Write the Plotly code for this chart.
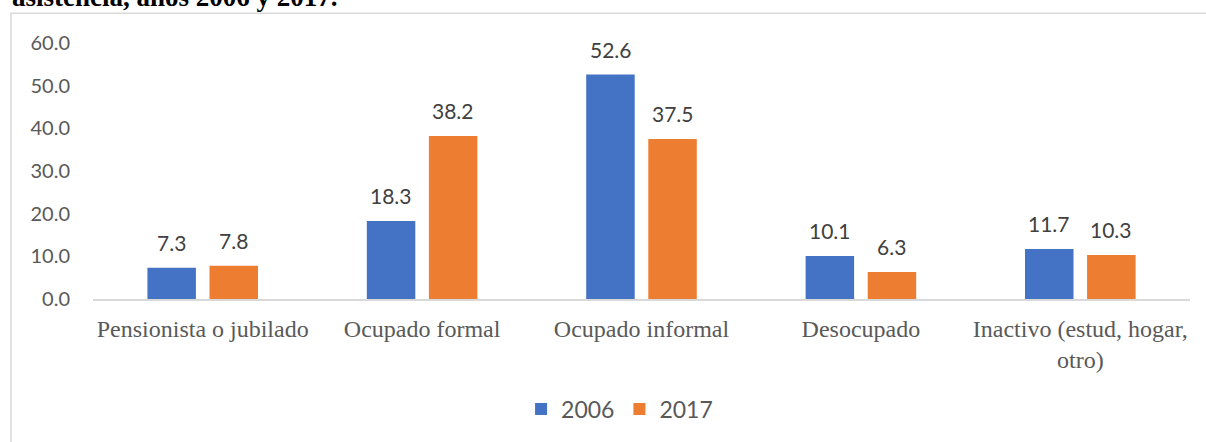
import plotly.graph_objects as go

categorias = ["Pensionista o jubilado", "Ocupado formal", "Ocupado informal",
              "Desocupado", "Inactivo (estud, hogar,<br>otro)"]
v2006 = [7.3, 18.3, 52.6, 10.1, 11.7]
v2017 = [7.8, 38.2, 37.5, 6.3, 10.3]
series = [("2006", v2006, "#4472C4"), ("2017", v2017, "#ED7D31")]
y_ticks = [0, 10, 20, 30, 40, 50, 60]

W, H = 1206, 442
L, R, T, B = 93, 16, 43, 140
pw, ph = W - L - R, H - T - B

fig = go.Figure()
for name, vals, col in series:
    fig.add_trace(go.Bar(x=categorias, y=vals, name=name,
                         marker=dict(color=col, line=dict(width=0))))

# data labels above each bar
shift = 31
for i, (name, vals, col) in enumerate(series):
    dx = -shift if i == 0 else shift
    for c, v in zip(categorias, vals):
        fig.add_annotation(x=c, y=v, text=f"{v:.1f}", showarrow=False,
                           xshift=dx, yshift=11, yanchor="bottom",
                           font=dict(family="Lato", size=21, color="#404040"))

# title cut at the top
fig.add_annotation(xref="paper", yref="paper", x=(10 - L) / pw, y=(ph + T - 14) / ph,
                   xanchor="left", yanchor="bottom", showarrow=False,
                   text="<b>asistencia, años 2006 y 2017.</b>",
                   font=dict(family="Liberation Serif", size=27, color="black"))

# chart border
fig.add_shape(type="rect", xref="paper", yref="paper",
              x0=(11 - L) / pw, x1=1.1, y0=-0.8, y1=(ph + T - 13) / ph,
              line=dict(color="#d9d9d9", width=1.5), fillcolor="rgba(0,0,0,0)")

fig.update_layout(
    width=W, height=H,
    margin=dict(l=L, r=R, t=T, b=B),
    paper_bgcolor="white", plot_bgcolor="white",
    barmode="group", bargap=0.434, bargroupgap=0.219,
    showlegend=True,
    legend=dict(orientation="h", x=0.48, xanchor="center", y=-0.43, yanchor="middle",
                font=dict(family="Lato", size=23, color="#595959"), itemwidth=30),
    xaxis=dict(showline=True, linecolor="#d9d9d9", linewidth=2, showgrid=False,
               tickfont=dict(family="Liberation Serif", size=24, color="#595959"),
               ticks="", ticklabelstandoff=7),
    yaxis=dict(range=[0, 60], tickvals=y_ticks, tickformat=".1f", showgrid=False,
               zeroline=False, showline=False,
               tickfont=dict(family="Lato", size=20, color="#595959"),
               ticklabelstandoff=22),
)

fig.write_html("out.html", config={"displayModeBar": False},
               post_script="document.body.style.margin='0';")
